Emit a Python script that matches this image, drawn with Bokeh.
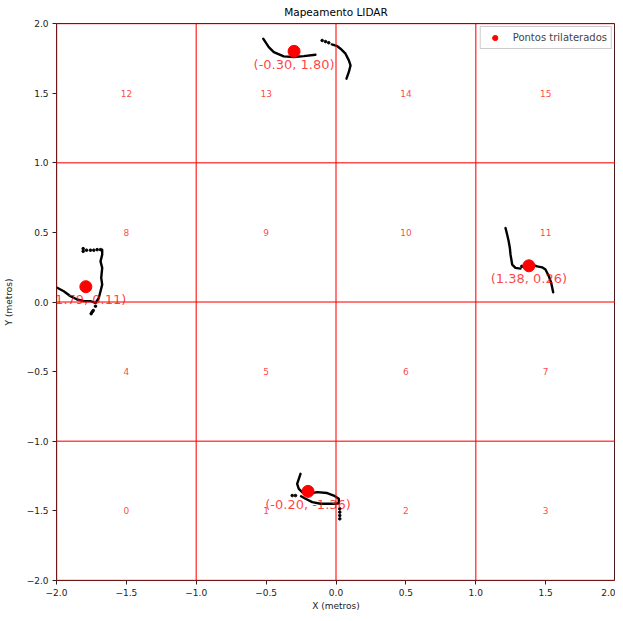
from bokeh.plotting import figure
from bokeh.models import (ColumnDataSource, Range1d, FixedTicker, Label, Legend,
                          LegendItem, Span)
from bokeh.embed import file_html
from bokeh.resources import INLINE
from bokeh.core.properties import value

# ---- data ----
tri_x = [-0.30, -1.79, 1.38, -0.20]
tri_y = [1.80, 0.11, 0.26, -1.36]
tri_labels = ["(-0.30, 1.80)", "(-1.79, 0.11)", "(1.38, 0.26)", "(-0.20, -1.36)"]

grid_lines = [-2, -1, 0, 1, 2]
cell_centers = [-1.5, -0.5, 0.5, 1.5]
ticks = [-2.0, -1.5, -1.0, -0.5, 0.0, 0.5, 1.0, 1.5, 2.0]
tick_labels = ["\u22122.0", "\u22121.5", "\u22121.0", "\u22120.5", "0.0", "0.5", "1.0", "1.5", "2.0"]

# continuous LIDAR traces
trace_xs = [
    [-0.521, -0.481, -0.445, -0.374, -0.302, -0.230, -0.147],
    [-0.030, 0.009, 0.032, 0.068, 0.092, 0.104, 0.092, 0.075],
    [-1.673, -1.673, -1.685, -1.673, -1.680, -1.673, -1.685, -1.697, -1.721],
    [-1.995, -1.948, -1.900, -1.852, -1.805, -1.757, -1.721],
    [1.213, 1.225, 1.236, 1.244, 1.249, 1.261, 1.284, 1.320],
    [1.420, 1.440, 1.475, 1.499, 1.523, 1.540, 1.554],
    [-0.254, -0.266, -0.278, -0.266, -0.242, -0.206, -0.135, -0.063, -0.016, 0.020, 0.020],
    [-0.250, -0.218, -0.170, -0.111, -0.052, -0.004, 0.020],
]
trace_ys = [
    [1.891, 1.830, 1.795, 1.764, 1.759, 1.766, 1.776],
    [1.850, 1.838, 1.819, 1.783, 1.735, 1.699, 1.652, 1.604],
    [0.376, 0.340, 0.292, 0.245, 0.173, 0.125, 0.077, 0.030, -0.006],
    [0.102, 0.077, 0.041, 0.018, 0.006, 0.006, -0.006],
    [0.531, 0.483, 0.435, 0.388, 0.340, 0.268, 0.245, 0.240],
    [0.262, 0.256, 0.249, 0.233, 0.185, 0.137, 0.070],
    [-1.234, -1.270, -1.306, -1.342, -1.365, -1.380, -1.365, -1.372, -1.390, -1.413, -1.437],
    [-1.395, -1.413, -1.437, -1.449, -1.449, -1.449, -1.445],
]
# sparse LIDAR points
dot_x = [-0.099, -0.075, -0.052,
         -1.809, -1.809, -1.785, -1.757, -1.733, -1.709, -1.685,
         -1.721, -1.737, -1.745, -1.752,
         1.330, 1.350,
         -0.313, -0.290,
         0.027, 0.027, 0.027, 0.027]
dot_y = [1.878, 1.870, 1.862,
         0.383, 0.364, 0.372, 0.372, 0.372, 0.376, 0.376,
         -0.030, -0.061, -0.072, -0.084,
         0.256, 0.256,
         -1.390, -1.390,
         -1.485, -1.509, -1.533, -1.557]

FONT = "DejaVu Sans"

p = figure(width=615, height=613, output_backend="svg", toolbar_location=None,
           x_range=Range1d(-2, 2), y_range=Range1d(-2, 2),
           min_border_left=56, min_border_right=0, min_border_top=23, min_border_bottom=31,
           title="Mapeamento LIDAR")
p.title.align = "center"
p.title.vertical_align = "top"
p.title.text_font = FONT
p.title.text_font_size = "10.5px"
p.title.text_font_style = "normal"
p.title.text_color = "black"
p.title.standoff = 7

p.grid.visible = False
p.outline_line_color = "#222222"
p.outline_line_width = 1

for ax, lab in ((p.xaxis, "X (metros)"), (p.yaxis, "Y (metros)")):
    ax.ticker = FixedTicker(ticks=ticks)
    ax.major_label_overrides = {t: l for t, l in zip(ticks, tick_labels)}
    ax.axis_label = lab
    ax.axis_label_text_font = FONT
    ax.axis_label_text_font_size = "9px"
    ax.axis_label_text_font_style = "normal"
    ax.axis_label_text_color = "#222222"
    ax.major_label_text_font = FONT
    ax.major_label_text_font_size = "9px"
    ax.major_label_text_color = "#222222"
    ax.major_label_standoff = 4
    ax.axis_line_color = None
    ax.major_tick_in = 0
    ax.major_tick_out = 4
    ax.major_tick_line_color = "#222222"
    ax.minor_tick_line_color = None
p.xaxis.axis_label_standoff = 2
p.yaxis.axis_label_standoff = 10

# red region grid
for g in grid_lines:
    p.add_layout(Span(location=g, dimension="height", line_color="red", line_alpha=0.7, line_width=1.5))
    p.add_layout(Span(location=g, dimension="width", line_color="red", line_alpha=0.7, line_width=1.5))

# region numbers
nx, ny, nt = [], [], []
for row, cy in enumerate(cell_centers):
    for col, cx in enumerate(cell_centers):
        nx.append(cx)
        ny.append(cy)
        nt.append(str(row * len(cell_centers) + col))
p.text(x=nx, y=ny, text=nt, text_align="center", text_baseline="middle",
       text_color="red", text_alpha=0.75, text_font=value(FONT), text_font_size="9px")

# LIDAR traces
p.multi_line(xs=trace_xs, ys=trace_ys, line_color="black", line_width=2.4,
             line_join="round", line_cap="round")
p.scatter(x=dot_x, y=dot_y, size=2.6, color="black")

# trilaterated points
src = ColumnDataSource(dict(x=tri_x, y=tri_y, label=tri_labels))
r = p.scatter("x", "y", source=src, size=12, color="red")
for tx, ty, tl in zip(tri_x, tri_y, tri_labels):
    p.add_layout(Label(x=tx, y=ty, text=tl, y_offset=-13,
                       text_align="center", text_baseline="middle", text_color="red",
                       text_alpha=0.75, text_font=FONT, text_font_size="13px"))

legend = Legend(items=[LegendItem(label="Pontos trilaterados", renderers=[r])],
                location="top_right", margin=3, padding=4, spacing=0,
                label_text_font=FONT, label_text_font_size="10px", label_standoff=8,
                glyph_width=20, glyph_height=13, label_height=13,
                border_line_color="#cccccc", border_line_alpha=1.0,
                background_fill_alpha=0.85)
p.add_layout(legend)

open("out.html", "w").write(file_html(p, INLINE))
